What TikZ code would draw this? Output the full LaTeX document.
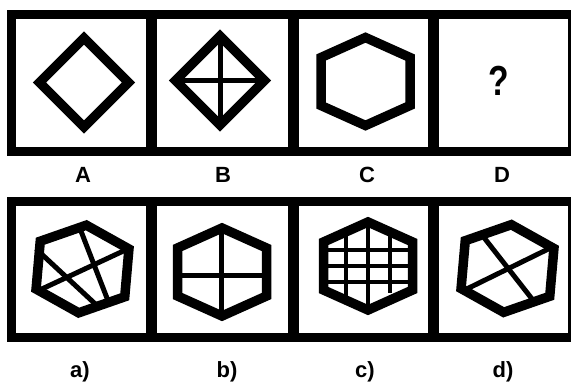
\documentclass[tikz,border=0pt]{standalone}
\usepackage{fontspec}
\setmainfont{Liberation Sans}

\begin{document}
\begin{tikzpicture}[x=1pt, y=-1pt,
  panel/.style={line width=9pt},
  divider/.style={line width=11pt},
  figure/.style={line width=9.5pt, line join=miter},
  inner/.style={line width=5pt},
  gridline/.style={line width=4pt},
  lbl/.style={font=\fontsize{22}{24}\selectfont\bfseries},
  qmark/.style={font=\fontsize{42}{44}\selectfont\bfseries, xscale=0.8, transform shape},
  hexa/.pic={\draw[figure] (0,-44) -- (44.5,-24) -- (44.5,24) -- (0,44) -- (-44.5,24) -- (-44.5,-24) -- cycle;},
]
\fill[white] (0,0) rectangle (571,388);
\useasboundingbox (0,0) rectangle (571,388);

% === TOP ROW: A B C D ===
\draw[panel] (11.5,14.5) rectangle (572,151.5);
\foreach \x in {151,293.5,433.5}
  \draw[divider] (\x,14.5) -- (\x,151.5);

% A: plain diamond
\draw[figure] (84,38) -- (128.5,82.5) -- (84,127) -- (39.5,82.5) -- cycle;

% B: diamond with cross
\draw[inner] (220,36) -- (220,125);
\draw[inner] (175.5,80.5) -- (264.5,80.5);
\draw[figure] (220,36) -- (264.5,80.5) -- (220,125) -- (175.5,80.5) -- cycle;

% C: plain hexagon
\pic at (365.5,81.5) {hexa};

% D: unknown
\node[qmark] (qm) at (499,80.5) {?};

\node[lbl] (labA) at (83,175) {A};
\node[lbl] (labB) at (223,175) {B};
\node[lbl] (labC) at (367,175) {C};
\node[lbl] (labD) at (502,175) {D};

% === BOTTOM ROW: options a) - d) ===
\draw[panel] (11.5,201.5) rectangle (572,337.5);
\foreach \x in {151,293.5,433.5}
  \draw[divider] (\x,201.5) -- (\x,337.5);

% a) tilted hexagon, skewed lines
\draw[inner] (36.1,249) -- (98,306.5);
\draw[inner] (78.7,225.2) -- (108,300.7);
\draw[inner] (39.7,290) -- (125.5,250);
\pic[rotate=-5] at (82.5,269) {hexa};

% b) hexagon with cross
\draw[inner] (221,228) -- (221,316);
\draw[inner] (177.5,275) -- (266.5,275);
\pic at (222,272) {hexa};

% c) hexagon with grid
\draw[gridline] (346,231.9) -- (346,300.1);
\draw[gridline] (368,222) -- (368,310);
\draw[gridline] (390,231.9) -- (390,293);
\foreach \y in {250,266,282}
  \draw[gridline] (323.5,\y) -- (412.5,\y);
\pic at (368,266) {hexa};

% d) tilted hexagon with cross
\draw[inner] (483,236.3) -- (533,300.2);
\draw[inner] (464.7,290) -- (550.3,248);
\pic[rotate=-5] at (507.5,268.5) {hexa};

\node[lbl] (laba) at (80,372) {a)};
\node[lbl] (labb) at (227,372) {b)};
\node[lbl] (labc) at (365,372) {c)};
\node[lbl] (labd) at (503,372) {d)};
\end{tikzpicture}
\end{document}
